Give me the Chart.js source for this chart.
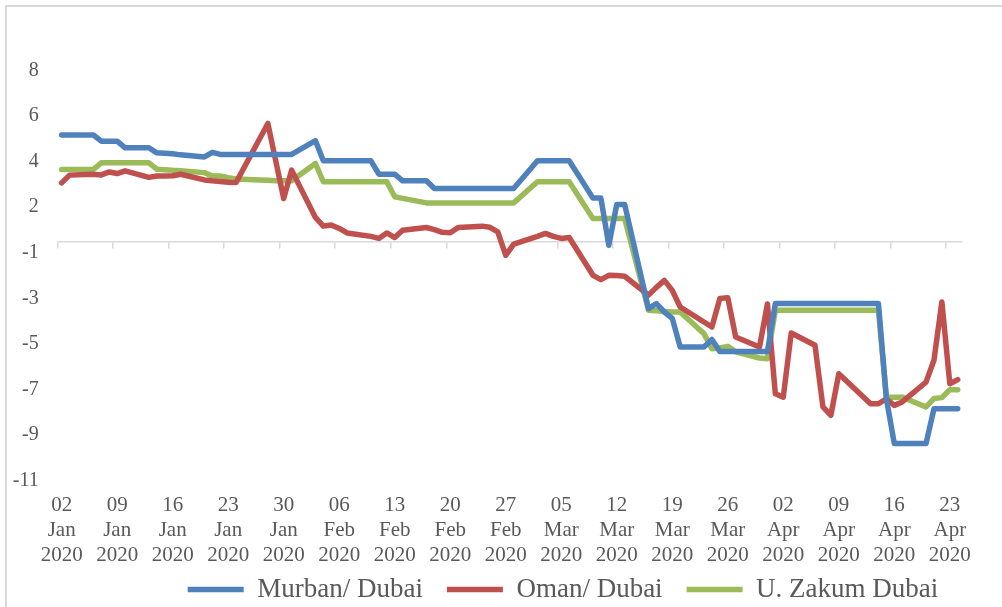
<!DOCTYPE html>
<html>
<head>
<meta charset="utf-8">
<script src="https://cdn.jsdelivr.net/npm/chart.js@4.4.1/dist/chart.umd.min.js"></script>
<style>
  html, body { margin: 0; padding: 0; background: #fff; overflow: hidden; width: 1002px; height: 607px; }
  #frame { position: absolute; left: 5px; top: 5px; width: 1200px; height: 700px;
           border-left: 2px solid #d9d9d9; border-top: 2px solid #d9d9d9; }
  #wrap { position: absolute; left: 0; top: 0; width: 1126px; height: 613px; }
</style>
</head>
<body>
<div id="frame"></div>
<div id="wrap"><canvas id="c" width="1126" height="613"></canvas></div>
<script>
// Trading days with quotes (Good Friday has none)
const tradingDays = [
  '2020-01-02','2020-01-03','2020-01-06','2020-01-07','2020-01-08','2020-01-09','2020-01-10',
  '2020-01-13','2020-01-14','2020-01-15','2020-01-16','2020-01-17','2020-01-20','2020-01-21',
  '2020-01-22','2020-01-23','2020-01-24','2020-01-27','2020-01-28','2020-01-29','2020-01-30','2020-01-31',
  '2020-02-03','2020-02-04','2020-02-05','2020-02-06','2020-02-07','2020-02-10','2020-02-11',
  '2020-02-12','2020-02-13','2020-02-14','2020-02-17','2020-02-18','2020-02-19','2020-02-20',
  '2020-02-21','2020-02-24','2020-02-25','2020-02-26','2020-02-27','2020-02-28',
  '2020-03-02','2020-03-03','2020-03-04','2020-03-05','2020-03-06','2020-03-09','2020-03-10',
  '2020-03-11','2020-03-12','2020-03-13','2020-03-16','2020-03-17','2020-03-18','2020-03-19',
  '2020-03-20','2020-03-23','2020-03-24','2020-03-25','2020-03-26','2020-03-27','2020-03-30','2020-03-31',
  '2020-04-01','2020-04-02','2020-04-03','2020-04-06','2020-04-07','2020-04-08','2020-04-09',
  '2020-04-13','2020-04-14','2020-04-15','2020-04-16','2020-04-17','2020-04-20','2020-04-21',
  '2020-04-22','2020-04-23','2020-04-24'
];

// Spreads, $/bbl
const murbanDubai = [
  4.67,4.67,4.67,4.40,4.40,4.40,4.11,4.11,3.89,3.87,3.85,3.80,3.71,3.91,3.82,3.82,3.82,3.82,3.82,3.82,3.82,3.82,
  4.42,3.54,3.54,3.54,3.54,3.54,2.95,2.95,2.95,2.66,2.66,2.32,2.32,2.32,2.32,2.32,2.32,2.32,2.32,2.32,
  3.54,3.54,3.54,3.54,3.54,1.90,1.90,-0.17,1.62,1.62,-2.95,-2.73,-3.10,-3.38,-4.64,-4.64,-4.31,-4.84,-4.84,-4.84,-4.84,-4.84,
  -2.73,-2.73,-2.73,-2.73,-2.73,-2.73,-2.73,-2.73,-2.73,-6.90,-8.88,-8.88,-8.88,-7.35,-7.35,-7.35,-7.35
];
const omanDubai = [
  2.57,2.91,2.95,2.92,3.05,2.98,3.10,2.81,2.87,2.87,2.88,2.95,2.70,2.66,2.63,2.60,2.59,4.53,5.18,3.53,1.88,3.13,
  1.05,0.67,0.72,0.57,0.37,0.22,0.13,0.37,0.17,0.49,0.61,0.52,0.40,0.38,0.61,0.67,0.62,0.42,-0.61,-0.12,
  0.22,0.35,0.22,0.13,0.17,-1.49,-1.68,-1.49,-1.50,-1.53,-2.36,-2.02,-1.71,-2.15,-2.88,-3.54,-3.76,-2.51,-2.47,-4.20,-4.64,-2.75,
  -6.69,-6.84,-4.02,-4.56,-7.27,-7.64,-5.81,-7.13,-7.13,-6.91,-7.20,-7.05,-6.18,-5.22,-2.66,-6.25,-6.07
];
const upperZakumDubai = [
  3.16,3.16,3.16,3.45,3.45,3.45,3.45,3.45,3.17,3.15,3.12,3.10,3.02,2.87,2.87,2.80,2.74,2.70,2.68,2.66,2.66,2.66,
  3.42,2.62,2.62,2.62,2.62,2.62,2.62,2.62,1.96,1.89,1.69,1.69,1.69,1.69,1.69,1.69,1.69,1.69,1.69,1.69,
  2.62,2.62,2.62,2.62,2.62,1.00,1.00,1.00,1.00,1.00,-3.02,-3.05,-3.08,-3.10,-3.10,-4.05,-4.71,-4.68,-4.61,-4.85,-5.12,-5.15,
  -3.02,-3.02,-3.02,-3.02,-3.02,-3.02,-3.02,-3.02,-3.02,-6.84,-6.84,-6.84,-7.27,-6.90,-6.86,-6.51,-6.51
];

// Weekly date labels on the horizontal axis
const weekLabels = [
  ['02','Jan','2020'], ['09','Jan','2020'], ['16','Jan','2020'], ['23','Jan','2020'], ['30','Jan','2020'],
  ['06','Feb','2020'], ['13','Feb','2020'], ['20','Feb','2020'], ['27','Feb','2020'],
  ['05','Mar','2020'], ['12','Mar','2020'], ['19','Mar','2020'], ['26','Mar','2020'],
  ['02','Apr','2020'], ['09','Apr','2020'], ['16','Apr','2020'], ['23','Apr','2020']
];

// Value-axis tick positions (shown rounded to whole dollars)
const yTickValues = [7.5, 5.5, 3.5, 1.5, -0.5, -2.5, -4.5, -6.5, -8.5, -10.5];

// Daily calendar axis from 2 Jan to 24 Apr 2020
const calendarDays = [];
for (let t = Date.UTC(2020, 0, 2); t <= Date.UTC(2020, 3, 24); t += 86400000) {
  calendarDays.push(new Date(t).toISOString().slice(0, 10));
}

const FONT = "'Liberation Serif', 'Times New Roman', serif";
const TEXT = '#595959';
const roundAway = v => Math.sign(v) * Math.round(Math.abs(v));

function series(label, values, color) {
  return {
    label,
    data: tradingDays.map((d, i) => ({ x: d, y: values[i] })),
    borderColor: color,
    backgroundColor: color,
    borderWidth: 5.5,
    borderCapStyle: 'round',
    borderJoinStyle: 'round',
    pointRadius: 0,
    tension: 0,
    fill: false
  };
}

new Chart(document.getElementById('c'), {
  type: 'line',
  data: {
    labels: calendarDays,
    datasets: [
      series('Murban/ Dubai', murbanDubai, '#4F81BD'),
      series('Oman/ Dubai', omanDubai, '#C0504D'),
      series('U. Zakum Dubai', upperZakumDubai, '#9BBB59')
    ]
  },
  options: {
    responsive: false,
    animation: false,
    devicePixelRatio: 1,
    layout: { padding: { top: 70.6, left: 0, right: 0, bottom: 0 } },
    plugins: {
      tooltip: { enabled: false },
      legend: {
        position: 'bottom',
        align: 'center',
        labels: {
          usePointStyle: true,
          pointStyle: 'line',
          pointStyleWidth: 56,
          padding: 24,
          color: TEXT,
          font: { family: FONT, size: 27 }
        }
      }
    },
    scales: {
      x: {
        type: 'category',
        position: 'bottom',
        offset: true,
        grid: { display: false, drawTicks: false },
        border: { display: false },
        ticks: {
          autoSkip: false,
          maxRotation: 0,
          minRotation: 0,
          // mirrored so the three-line labels are not clipped to the axis box
          mirror: true,
          padding: -37.1,
          color: TEXT,
          font: { family: FONT, size: 21, lineHeight: 1.2 },
          callback: (v, i) => (i % 7 === 0 ? weekLabels[i / 7] : '')
        },
        afterFit: s => { s.height = 71.5; }
      },
      zeroAxis: {
        type: 'category',
        axis: 'x',
        position: { y: 0 },
        offset: true,
        grid: {
          offset: true,
          drawOnChartArea: false,
          drawTicks: true,
          tickLength: 6,
          lineWidth: 1.5,
          color: c => (c.index % 7 === 0 ? '#d9d9d9' : 'rgba(0,0,0,0)')
        },
        border: { display: true, color: '#d9d9d9', width: 1.5 },
        ticks: { display: false, autoSkip: false },
        afterFit: s => { s.height = 0; }
      },
      y: {
        type: 'linear',
        position: 'left',
        min: -10.5,
        max: 7.5,
        grid: { display: false, drawTicks: false },
        border: { display: false },
        afterBuildTicks: s => { s.ticks = yTickValues.map(v => ({ value: v })); },
        ticks: {
          padding: 19,
          color: TEXT,
          font: { family: FONT, size: 20 },
          callback: v => String(roundAway(v))
        },
        afterFit: s => { s.width = 57.7; }
      },
      spacer: {
        type: 'linear',
        axis: 'y',
        position: 'right',
        grid: { display: false, drawTicks: false },
        border: { display: false },
        ticks: { display: false },
        afterFit: s => { s.width = 164.3; }
      }
    }
  }
});
</script>
</body>
</html>
